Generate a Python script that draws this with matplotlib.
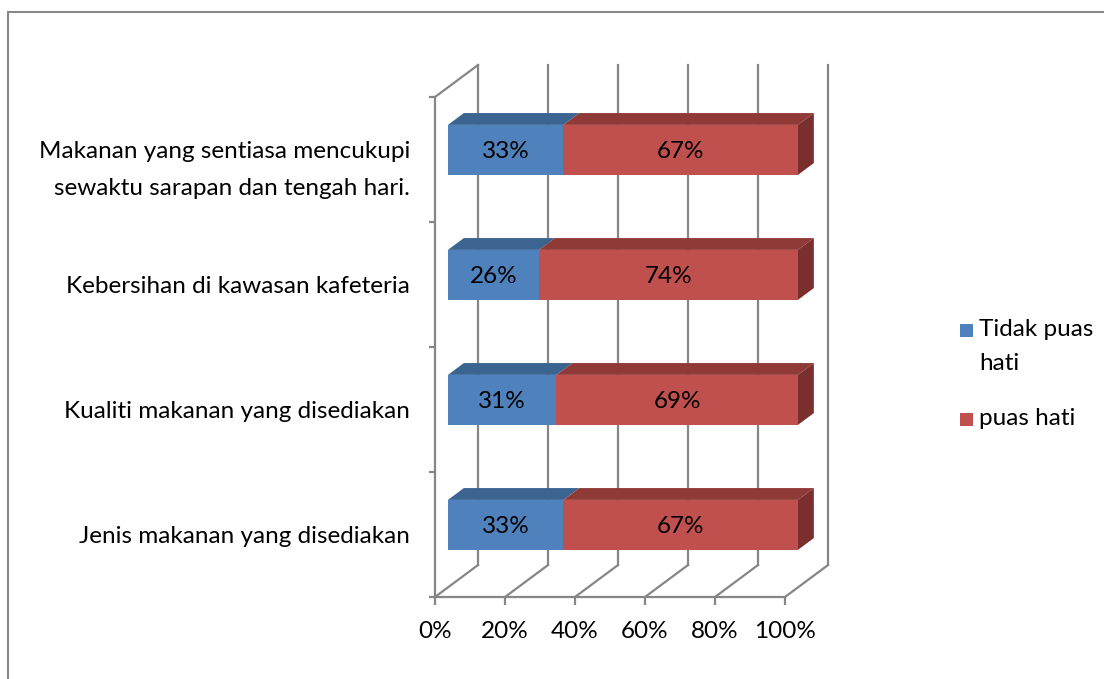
import matplotlib
matplotlib.use('Agg')
from matplotlib import pyplot as plt
from matplotlib.patches import Polygon, Rectangle

plt.rcParams['font.family'] = ['Lato', 'DejaVu Sans']

categories = [
    'Jenis makanan yang disediakan',
    'Kualiti makanan yang disediakan',
    'Kebersihan di kawasan kafeteria',
    'Makanan yang sentiasa mencukupi\nsewaktu sarapan dan tengah hari.',
]
tidak_puas = [33, 31, 26, 33]
puas = [67, 69, 74, 67]
series_names = ['Tidak puas\nhati', 'puas hati']
x_ticks = [0, 20, 40, 60, 80, 100]
x_labels = ['0%', '20%', '40%', '60%', '80%', '100%']

BLUE = ('#4F81BD', '#3B6491', '#335780')
RED = ('#C0504D', '#903A38', '#7A2F2D')
GRID = '#868686'
FS = 17.5

# depth of the 3d box in data units (x in %, y in categories)
DX, DY = 12.3, 0.256
D0, D1 = 0.30, 0.67      # bar front / back position within depth
BAR_H = 0.40

fig = plt.figure(figsize=(11.04, 6.79), dpi=100)
ax = fig.add_axes([435 / 1104, 82 / 679, 350 / 1104, 500 / 679])
ax.set_xlim(0, 100)
ax.set_ylim(0, len(categories))

# walls and floor
for t in x_ticks:
    ax.plot([t + DX, t + DX], [DY, len(categories) + DY], color=GRID,
            lw=1.6, zorder=1, clip_on=False)
    ax.plot([t, t + DX], [0, DY], color=GRID, lw=1.6, zorder=1, clip_on=False)
ax.plot([0, DX], [len(categories), len(categories) + DY], color=GRID,
        lw=1.6, zorder=1, clip_on=False)


def box(x0, w, yc, colors, side):
    y0 = yc - BAR_H / 2
    ox, oy = DX * D0, DY * D0
    bx, by = DX * (D1 - D0), DY * (D1 - D0)
    front = [(x0 + ox, y0 + oy), (x0 + w + ox, y0 + oy),
             (x0 + w + ox, y0 + BAR_H + oy), (x0 + ox, y0 + BAR_H + oy)]
    top = [(x0 + ox, y0 + BAR_H + oy), (x0 + w + ox, y0 + BAR_H + oy),
           (x0 + w + ox + bx, y0 + BAR_H + oy + by),
           (x0 + ox + bx, y0 + BAR_H + oy + by)]
    ax.add_patch(Polygon(top, closed=True, fc=colors[1], ec='none',
                         zorder=3, clip_on=False))
    if side:
        right = [(x0 + w + ox, y0 + oy), (x0 + w + ox + bx, y0 + oy + by),
                 (x0 + w + ox + bx, y0 + BAR_H + oy + by),
                 (x0 + w + ox, y0 + BAR_H + oy)]
        ax.add_patch(Polygon(right, closed=True, fc=colors[2], ec='none',
                             zorder=3, clip_on=False))
    ax.add_patch(Polygon(front, closed=True, fc=colors[0], ec='none',
                         zorder=4, clip_on=False))
    ax.text(x0 + w / 2 + ox, yc + oy, f'{w}%', ha='center',
            va='center_baseline', fontsize=FS, zorder=5)


for i in range(len(categories)):
    yc = i + 0.5
    box(0, tidak_puas[i], yc, BLUE, False)
    box(tidak_puas[i], puas[i], yc, RED, True)

for s in ['top', 'right']:
    ax.spines[s].set_visible(False)
for s in ['left', 'bottom']:
    ax.spines[s].set_color(GRID)
    ax.spines[s].set_linewidth(1.6)
    ax.spines[s].set_zorder(2)

ax.set_xticks(x_ticks)
ax.set_xticklabels(x_labels, fontsize=FS)
ax.tick_params(axis='x', length=6, color=GRID, width=1.6, pad=11)
ax.set_yticks(range(len(categories) + 1))
ax.set_yticklabels([])
ax.tick_params(axis='y', which='major', length=4, color=GRID, width=1.6)
ax.set_yticks([i + 0.5 for i in range(len(categories))], minor=True)
ax.set_yticklabels(categories, minor=True, fontsize=FS, ha='right',
                   linespacing=1.95)
ax.tick_params(axis='y', which='minor', length=0, pad=18)
ax.patch.set_alpha(0)

# legend, drawn by hand so the swatch sits on the first text line
W, H = 1104, 679
legend_rows = [(BLUE[0], series_names[0], 330), (RED[0], series_names[1], 419)]
for color, name, ypix in legend_rows:
    fig.add_artist(Rectangle((960 / W, 1 - (ypix + 6.5) / H), 13 / W, 13 / H,
                             transform=fig.transFigure, fc=color, ec='none'))
    fig.text(979 / W, 1 - (ypix - 11) / H, name, fontsize=FS, ha='left',
             va='top', linespacing=1.75)

fig.add_artist(Rectangle((8 / W, -0.1), 1.2, 1.1 - 12 / H,
                         transform=fig.transFigure, fill=False,
                         ec='#888888', lw=1.5))

fig.savefig('out.png', dpi=100)
